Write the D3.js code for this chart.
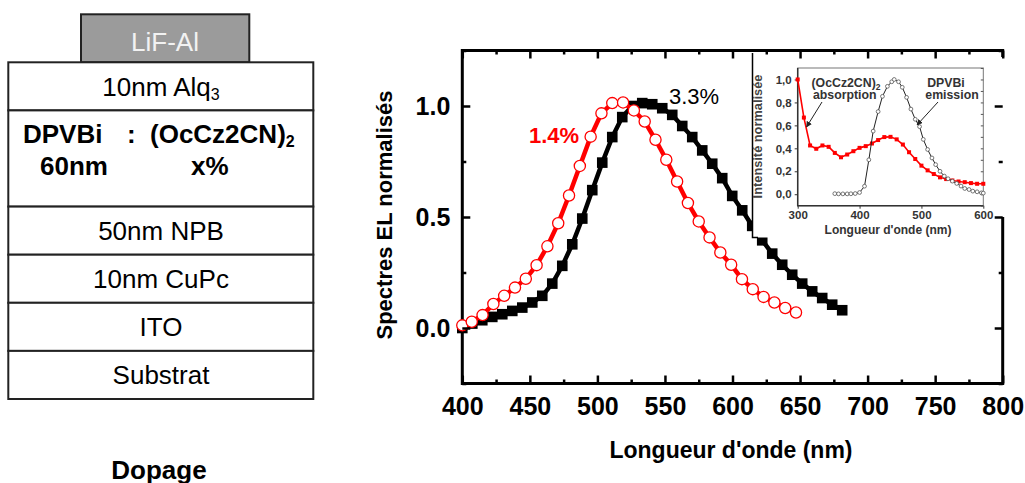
<!DOCTYPE html>
<html lang="fr">
<head>
<meta charset="UTF-8">
<title>Spectres EL</title>
<style>
  body { margin: 0; background: #fff; }
  svg text { font-family: "Liberation Sans", Arial, sans-serif; }
</style>
<script src="https://cdn.jsdelivr.net/npm/d3@7"></script>
</head>
<body>
<script>
// Empilement de la diode (de haut en bas)
var couches = ["10nm Alq3", "DPVBi : (OcCz2CN)2", "50nm NPB", "10nm CuPc", "ITO", "Substrat"];
var hauteurs = [1, 2, 1, 1, 1, 1];

// Spectres EL (nm, intensité normalisée)
var lambda_33 = [400, 407.4, 414.8, 422.2, 429.6, 437, 444.4, 451.8, 459.2, 466.6, 474, 481.4, 488.8, 496.2,
  503.6, 511, 518.4, 525.8, 533.2, 540.6, 548, 555.4, 562.8, 570.2, 577.6, 585, 592.4, 599.8, 607.2,
  614.6, 622, 629.4, 636.8, 644.2, 651.6, 659, 666.4, 673.8, 681.2];
var el_33 = [0.0, 0.02, 0.035, 0.05, 0.062, 0.077, 0.092, 0.115, 0.145, 0.2, 0.28, 0.377, 0.493, 0.621,
  0.745, 0.86, 0.95, 1.0, 1.013, 1.008, 0.99, 0.96, 0.91, 0.86, 0.8, 0.74, 0.675, 0.595, 0.53,
  0.46, 0.395, 0.335, 0.285, 0.24, 0.2, 0.165, 0.135, 0.105, 0.08];
var lambda_14 = [400, 407, 415, 423, 431, 439, 447, 455, 463, 471, 479, 487, 495, 503, 511, 519, 527,
  535, 543, 551, 559, 567, 575, 583, 591, 599, 607, 615, 623, 631, 639, 647];
var el_14 = [0.012, 0.028, 0.058, 0.108, 0.145, 0.182, 0.222, 0.283, 0.368, 0.472, 0.597, 0.73, 0.862,
  0.967, 1.013, 1.016, 0.98, 0.93, 0.848, 0.758, 0.66, 0.563, 0.48, 0.408, 0.34, 0.285, 0.22, 0.175,
  0.14, 0.115, 0.09, 0.07];

// Encart : absorption (OcCz2CN)2 et émission DPVBi
var lambda_abs = [300, 310, 320, 330, 340, 350, 360, 370, 380, 390, 400, 410, 420, 430, 440, 450, 460,
  470, 480, 490, 500, 510, 520, 530, 540, 550, 560, 570, 580, 590, 600];
var abs_val = [1.0, 0.668, 0.425, 0.396, 0.425, 0.413, 0.36, 0.322, 0.346, 0.375, 0.404, 0.419, 0.442,
  0.472, 0.498, 0.5, 0.478, 0.433, 0.366, 0.307, 0.249, 0.208, 0.176, 0.147, 0.132, 0.12, 0.111,
  0.105, 0.097, 0.091, 0.091];
var lambda_em = [360, 366, 373, 380, 386, 393, 400, 408, 415, 422, 430, 437, 445, 452, 456, 463, 469,
  476, 483, 490, 497, 503, 510, 517, 523, 530, 537, 543, 550, 557, 564, 570, 577, 583, 590, 597, 600];
var em_val = [0.005, 0.003, 0.003, 0.003, 0.004, 0.006, 0.015, 0.07, 0.3, 0.55, 0.72, 0.853, 0.94, 0.98,
  1.0, 0.98, 0.932, 0.844, 0.742, 0.653, 0.589, 0.478, 0.39, 0.316, 0.258, 0.2, 0.158, 0.135, 0.114,
  0.094, 0.071, 0.05, 0.041, 0.027, 0.021, 0.012, 0.01];

var ticks_main_x = [400, 450, 500, 550, 600, 650, 700, 750, 800];
var ticks_main_y = [0, 0.5, 1.0];
var ticks_enc_x = [300, 400, 500, 600];
var ticks_enc_y = [0, 0.2, 0.4, 0.6, 0.8, 1.0];

var svg = d3.select("body").append("svg").attr("width", 1025).attr("height", 483);

// ---------- Empilement ----------
var pile = svg.append("g");
var y0 = 62.3, unite = 48.1;
pile.append("rect").attr("x", 81).attr("y", 14.3).attr("width", 168.3).attr("height", 48)
  .attr("fill", "#9b9b9b").attr("stroke", "#222").attr("stroke-width", 2);
pile.append("text").attr("x", 165).attr("y", 50.5).attr("text-anchor", "middle")
  .attr("font-size", 26).attr("fill", "#f2f2f2").text("LiF-Al");

var yc = y0;
couches.forEach(function(c, i) {
  var h = hauteurs[i] * unite;
  pile.append("rect").attr("x", 8.3).attr("y", yc).attr("width", 305).attr("height", h)
    .attr("fill", "#fff").attr("stroke", "#222").attr("stroke-width", 2);
  if (i === 0) {
    var t = pile.append("text").attr("x", 161).attr("y", yc + h / 2 + 9.5)
      .attr("text-anchor", "middle").attr("font-size", 26);
    t.append("tspan").text("10nm Alq");
    t.append("tspan").attr("font-size", 16).attr("dy", 4).text("3");
  } else if (i === 1) {
    pile.append("text").attr("x", 23).attr("y", yc + 33).attr("font-size", 26)
      .attr("font-weight", "bold").text("DPVBi");
    pile.append("text").attr("x", 127).attr("y", yc + 33).attr("font-size", 26)
      .attr("font-weight", "bold").text(":");
    var t2 = pile.append("text").attr("x", 150).attr("y", yc + 33).attr("font-size", 26)
      .attr("font-weight", "bold");
    t2.append("tspan").text("(OcCz2CN)");
    t2.append("tspan").attr("font-size", 16).attr("dy", 4).text("2");
    pile.append("text").attr("x", 40).attr("y", yc + 65).attr("font-size", 26)
      .attr("font-weight", "bold").text("60nm");
    pile.append("text").attr("x", 191).attr("y", yc + 65).attr("font-size", 26)
      .attr("font-weight", "bold").text("x%");
  } else {
    pile.append("text").attr("x", 161).attr("y", yc + h / 2 + 9.5)
      .attr("text-anchor", "middle").attr("font-size", 26).text(c);
  }
  yc += h;
});
pile.append("text").attr("x", 159).attr("y", 479).attr("text-anchor", "middle")
  .attr("font-size", 26).attr("font-weight", "bold").text("Dopage");

// ---------- Graphique principal ----------
var x = d3.scaleLinear().domain([400, 800]).range([462.3, 1002.7]);
var y = d3.scaleLinear().domain([-0.25, 1.25]).range([383.5, 50.5]);
var minX = d3.range(425, 800, 50), minY = [-0.25, 0.25, 0.75, 1.25];

var ligne = d3.line().x(function(d) { return x(d[0]); }).y(function(d) { return y(d[1]); });
var d33 = d3.zip(lambda_33, el_33), d14 = d3.zip(lambda_14, el_14);

// cadre (sous l'encart)
svg.append("path")
  .attr("d", "M" + x(400) + "," + y(1.25) + "H" + x(800) + "V" + y(-0.25) + "H" + x(400) + "Z")
  .attr("fill", "none").attr("stroke", "#000").attr("stroke-width", 3);

var courbes = svg.append("g");
courbes.append("path").datum(d33).attr("d", ligne).attr("fill", "none")
  .attr("stroke", "#000").attr("stroke-width", 4.5);
courbes.selectAll(".carre").data(d33).enter().append("rect")
  .attr("x", function(d) { return x(d[0]) - 5.3; }).attr("y", function(d) { return y(d[1]) - 5.3; })
  .attr("width", 10.6).attr("height", 10.6).attr("fill", "#000");
courbes.append("path").datum(d14).attr("d", ligne).attr("fill", "none")
  .attr("stroke", "#ff0000").attr("stroke-width", 4.5);
courbes.selectAll(".rond").data(d14).enter().append("circle")
  .attr("cx", function(d) { return x(d[0]); }).attr("cy", function(d) { return y(d[1]); })
  .attr("r", 5.6).attr("fill", "#fff").attr("stroke", "#ff0000").attr("stroke-width", 1.3);

courbes.append("text").attr("x", 529).attr("y", 143).attr("font-size", 22)
  .attr("font-weight", "bold").attr("fill", "#ff0000").text("1.4%");
courbes.append("text").attr("x", 669).attr("y", 104).attr("font-size", 22)
  .attr("fill", "#000").text("3.3%");

// ---------- Encart ----------
var enc = svg.append("g");
enc.append("rect").attr("x", 752).attr("y", 52.5).attr("width", 247).attr("height", 185).attr("fill", "#fff");
// l'encart masque le bord droit du cadre
enc.append("rect").attr("x", 999).attr("y", 57).attr("width", 6).attr("height", 160).attr("fill", "#fff");
enc.append("path").attr("d", "M752.5,53V237.5H758").attr("fill", "none").attr("stroke", "#000").attr("stroke-width", 1.5);

var xi = d3.scaleLinear().domain([300, 600]).range([797.7, 983.3]);
var yi = d3.scaleLinear().domain([-0.1, 1.1]).range([205.7, 68]);
var ligneI = d3.line().x(function(d) { return xi(d[0]); }).y(function(d) { return yi(d[1]); });
var dAbs = d3.zip(lambda_abs, abs_val), dEm = d3.zip(lambda_em, em_val);

enc.append("rect").attr("x", 797.7).attr("y", 68).attr("width", 185.6).attr("height", 137.7)
  .attr("fill", "none").attr("stroke", "#777").attr("stroke-width", 1);
enc.append("path").attr("d", "M797.7,68V205.7H983.3").attr("fill", "none").attr("stroke", "#333").attr("stroke-width", 1.5);

enc.append("g").attr("transform", "translate(0,205.7)")
  .call(d3.axisBottom(xi).tickValues(ticks_enc_x).tickSize(3).tickPadding(2.5).tickSizeOuter(0).tickFormat(d3.format("d")))
  .call(function(g) { g.select(".domain").remove(); })
  .call(function(g) { g.selectAll("text").attr("font-size", 11.5).attr("font-weight", "bold").attr("fill", "#333"); })
  .call(function(g) { g.selectAll("line").attr("stroke", "#333"); });
enc.append("g").attr("transform", "translate(797.7,0)")
  .call(d3.axisLeft(yi).tickValues(ticks_enc_y).tickSize(3).tickSizeOuter(0)
    .tickFormat(function(d) { return d3.format(".1f")(d).replace(".", ","); }))
  .call(function(g) { g.select(".domain").remove(); })
  .call(function(g) { g.selectAll("text").attr("font-size", 11.5).attr("font-weight", "bold").attr("fill", "#333"); })
  .call(function(g) { g.selectAll("line").attr("stroke", "#333"); });
enc.append("g").attr("transform", "translate(983.3,0)")
  .call(d3.axisRight(yi).tickValues(d3.range(-0.1, 1.11, 0.1)).tickSize(-2.5).tickFormat(""))
  .call(function(g) { g.select(".domain").remove(); g.selectAll("line").attr("stroke", "#555"); });

enc.append("path").datum(dAbs).attr("d", ligneI).attr("fill", "none").attr("stroke", "#ff0000").attr("stroke-width", 1.6);
enc.selectAll(".abs").data(dAbs).enter().append("rect")
  .attr("x", function(d) { return xi(d[0]) - 2; }).attr("y", function(d) { return yi(d[1]) - 2; })
  .attr("width", 4).attr("height", 4).attr("fill", "#ff0000");
enc.append("path").datum(dEm).attr("d", ligneI).attr("fill", "none").attr("stroke", "#222").attr("stroke-width", 1);
enc.selectAll(".em").data(dEm).enter().append("circle")
  .attr("cx", function(d) { return xi(d[0]); }).attr("cy", function(d) { return yi(d[1]); })
  .attr("r", 1.9).attr("fill", "#fff").attr("stroke", "#555").attr("stroke-width", 0.8);

var t3 = enc.append("text").attr("x", 811.5).attr("y", 86.5).attr("font-size", 12.3).attr("font-weight", "bold").attr("fill", "#333");
t3.append("tspan").text("(OcCz2CN)");
t3.append("tspan").attr("font-size", 8.5).attr("dy", 3).text("2");
enc.append("text").attr("x", 813).attr("y", 98.5).attr("font-size", 12.3).attr("font-weight", "bold").attr("fill", "#333").text("absorption");
enc.append("text").attr("x", 946).attr("y", 86.5).attr("text-anchor", "middle").attr("font-size", 12.3).attr("font-weight", "bold").attr("fill", "#333").text("DPVBi");
enc.append("text").attr("x", 952).attr("y", 98.5).attr("text-anchor", "middle").attr("font-size", 12.3).attr("font-weight", "bold").attr("fill", "#333").text("emission");

svg.append("defs").append("marker").attr("id", "fl").attr("viewBox", "0 0 10 10")
  .attr("refX", 9).attr("refY", 5).attr("markerWidth", 6).attr("markerHeight", 6).attr("orient", "auto")
  .append("path").attr("d", "M0,0L10,5L0,10z").attr("fill", "#222");
enc.append("line").attr("x1", 822).attr("y1", 102).attr("x2", 806.5).attr("y2", 127)
  .attr("stroke", "#222").attr("stroke-width", 1).attr("marker-end", "url(#fl)");
enc.append("line").attr("x1", 938).attr("y1", 102).attr("x2", 917).attr("y2", 125)
  .attr("stroke", "#222").attr("stroke-width", 1).attr("marker-end", "url(#fl)");

enc.append("text").attr("x", 888).attr("y", 234).attr("text-anchor", "middle").attr("font-size", 12)
  .attr("font-weight", "bold").attr("fill", "#333").text("Longueur d'onde (nm)");
enc.append("text").attr("transform", "translate(762,136.5) rotate(-90)").attr("text-anchor", "middle")
  .attr("font-size", 12.8).attr("font-weight", "bold").attr("fill", "#444").text("Intensité normalisée");

// ---------- Axes du graphique principal ----------
var axes = svg.append("g");
function style(g) {
  g.select(".domain").remove();
  g.selectAll("line").attr("stroke", "#000").attr("stroke-width", 2.5);
  g.selectAll("text").attr("font-size", 25).attr("font-weight", "bold").attr("fill", "#000");
}
axes.append("g").attr("transform", "translate(0,383.5)")
  .call(d3.axisBottom(x).tickValues(ticks_main_x).tickSize(-8).tickPadding(14).tickFormat(d3.format("d"))).call(style);
axes.append("g").attr("transform", "translate(0,383.5)")
  .call(d3.axisBottom(x).tickValues(minX).tickSize(-4).tickFormat("")).call(style);
axes.append("g").attr("transform", "translate(0,50.5)")
  .call(d3.axisTop(x).tickValues(ticks_main_x).tickSize(-8).tickFormat("")).call(style);
axes.append("g").attr("transform", "translate(0,50.5)")
  .call(d3.axisTop(x).tickValues(minX).tickSize(-4).tickFormat("")).call(style);
axes.append("g").attr("transform", "translate(462.3,0)")
  .call(d3.axisLeft(y).tickValues(ticks_main_y).tickSize(-8).tickPadding(12).tickFormat(d3.format(".1f"))).call(style);
axes.append("g").attr("transform", "translate(462.3,0)")
  .call(d3.axisLeft(y).tickValues(minY).tickSize(-4).tickFormat("")).call(style);
axes.append("g").attr("transform", "translate(1002.7,0)")
  .call(d3.axisRight(y).tickValues(ticks_main_y).tickSize(-8).tickFormat("")).call(style);
axes.append("g").attr("transform", "translate(1002.7,0)")
  .call(d3.axisRight(y).tickValues(minY).tickSize(-4).tickFormat("")).call(style);

axes.append("text").attr("x", 731).attr("y", 458).attr("text-anchor", "middle")
  .attr("font-size", 23).attr("font-weight", "bold").text("Longueur d'onde (nm)");
axes.append("text").attr("transform", "translate(392,215) rotate(-90)").attr("text-anchor", "middle")
  .attr("font-size", 22).attr("font-weight", "bold").text("Spectres EL normalisés");
</script>
</body>
</html>
